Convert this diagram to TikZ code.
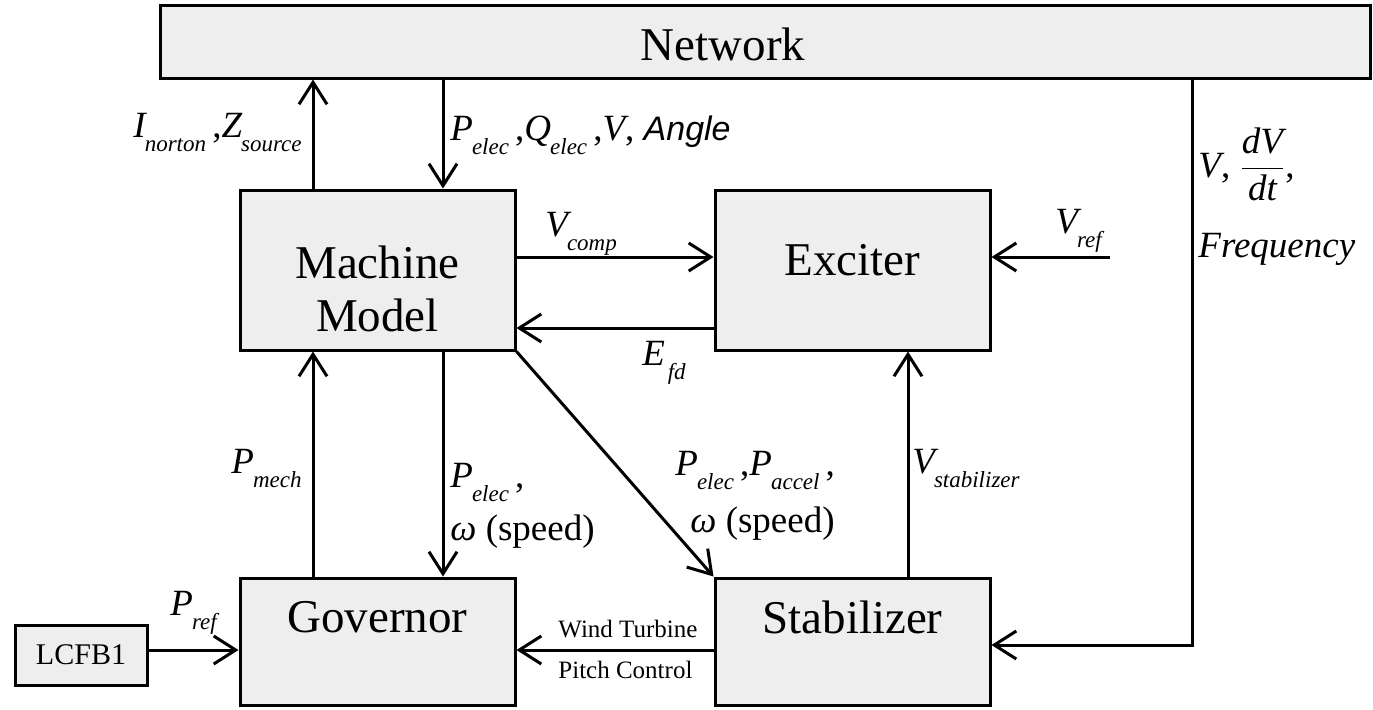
\documentclass[tikz,border=0pt]{standalone}
\usepackage{fontspec}
\setmainfont{Liberation Serif}
\newfontfamily\sansfam{Liberation Sans}
\usetikzlibrary{arrows.meta,calc}
\definecolor{boxgray}{HTML}{EEEEEE}
\newcommand{\vsub}[2]{{\itshape #1\kern-0.5pt\raisebox{-0.38em}{\fontsize{11.5}{12}\selectfont\itshape #2}}}
\newcommand{\lblsize}{\fontsize{18.5}{22}\selectfont}
\tikzset{
  blk/.style={draw,line width=1.5pt,fill=boxgray,inner sep=0pt},
  boxtxt/.style={font=\fontsize{23.5}{26.5}\selectfont,inner sep=0pt,align=center},
  lbl/.style={font=\lblsize,inner sep=0pt},
  small/.style={font=\fontsize{12.5}{14}\selectfont,inner sep=0pt},
  arr/.style={line width=1.5pt,-{Straight Barb[length=11pt,width=14pt,line width=1.5pt]}},
  ln/.style={line width=1.5pt}
}
\begin{document}
\begin{tikzpicture}[x=0.5pt,y=-0.5pt]
\useasboundingbox (0,0) rectangle (1373,709);
% blocks
\node[blk,minimum width=605pt,minimum height=36.5pt] (net) at (765,41.5) {};
\node[boxtxt] (nettxt) at (723,44) {Network};
\node[blk,minimum width=137.5pt,minimum height=80pt] (mm) at (377.5,270) {};
\node[boxtxt] (mmtxt) at (377.5,289) {Machine\\Model};
\node[blk,minimum width=137.5pt,minimum height=80pt] (exc) at (852.5,270) {};
\node[boxtxt] (exctxt) at (852.5,260) {Exciter};
\node[blk,minimum width=137.5pt,minimum height=63.5pt] (gov) at (377.5,641.5) {};
\node[boxtxt] (govtxt) at (377.5,617) {Governor};
\node[blk,minimum width=137.5pt,minimum height=63.5pt] (stab) at (852.5,641.5) {};
\node[boxtxt] (stabtxt) at (852.5,617) {Stabilizer};
\node[blk,minimum width=66pt,minimum height=30pt,font=\fontsize{15}{17}\selectfont] (lcfb) at (81,655) {LCFB1};
% helper coordinates
\coordinate (x1) at (313,0);
\coordinate (x2) at (443,0);
\coordinate (x3) at (908,0);
\coordinate (y1) at (0,257);
\coordinate (y2) at (0,328);
\coordinate (y5) at (0,650);
\coordinate (vrefs) at (1110,257);
\coordinate (fb) at (1192,645);
% connectors
\draw[arr] (mm.north -| x1) -- (net.south -| x1);
\draw[arr] (net.south -| x2) -- (mm.north -| x2);
\draw[arr] (mm.east |- y1) -- (exc.west |- y1);
\draw[arr] (exc.west |- y2) -- (mm.east |- y2);
\draw[arr] (vrefs) -- (exc.east |- vrefs);
\draw[arr] (gov.north -| x1) -- (mm.south -| x1);
\draw[arr] (mm.south -| x2) -- (gov.north -| x2);
\draw[arr] (mm.south east) -- (stab.north west);
\draw[arr] (stab.north -| x3) -- (exc.south -| x3);
\draw[arr] (net.south -| fb) -- (fb) -- (stab.east |- fb);
\draw[arr] (stab.west |- y5) -- (gov.east |- y5);
\draw[arr] (lcfb.east |- y5) -- (gov.west |- y5);
% labels
\node[lbl,anchor=base east] (linz) at (302,137) {\vsub{I}{norton}\,,\vsub{Z}{source}};
\node[lbl,anchor=base west] (lpq) at (450,140) {\vsub{P}{elec}\,,\vsub{Q}{elec}\,,\textit{V}, {\sansfam\itshape\fontsize{17}{20}\selectfont Angle}};
\node[lbl,anchor=base west] (lvcomp) at (545,236) {\vsub{V}{comp}};
\node[lbl,anchor=base west] (lefd) at (642,365) {\vsub{E}{\,fd}};
\node[lbl,anchor=base west] (lvref) at (1055,233) {\vsub{V}{ref}};
\node[lbl,anchor=base west] (lvdv) at (1198,177) {\textit{V}, $\displaystyle\frac{\textit{dV}}{\textit{dt}}$,};
\node[lbl,anchor=base west] (lfreq) at (1198,257) {\textit{Frequency}};
\node[lbl,anchor=base east] (lpmech) at (302,473) {\vsub{P}{mech}};
\node[lbl,anchor=base west] (lvstab) at (912,473) {\vsub{V}{stabilizer}};
\node[lbl,anchor=base west] (lpe1) at (450,487) {\vsub{P}{elec}\,,};
\node[lbl,anchor=base west] (lw1) at (450,540) {\textit{ω} (speed)};
\node[lbl,anchor=base west] (lpe2) at (675,475) {\vsub{P}{elec}\,,\vsub{P}{accel}\,,};
\node[lbl,anchor=base west] (lw2) at (690,532) {\textit{ω} (speed)};
\node[lbl,anchor=base west] (lpref) at (170,615) {\vsub{P}{ref}};
\node[small,anchor=base west] (lwind) at (558,637) {Wind Turbine};
\node[small,anchor=base west] (lpitch) at (558,678) {Pitch Control};
\end{tikzpicture}
\end{document}
